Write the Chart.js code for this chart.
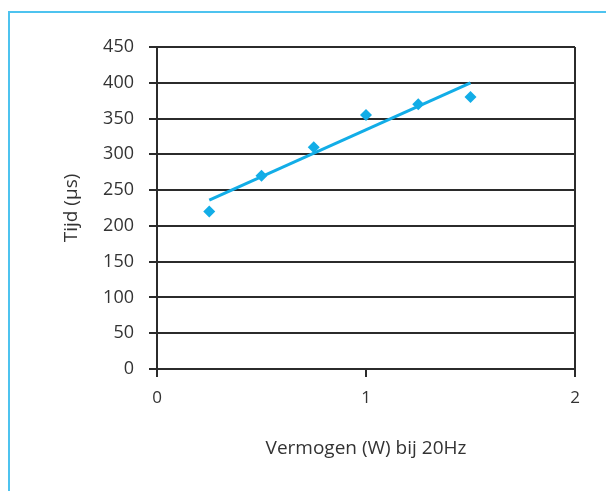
<!DOCTYPE html>
<html>
<head>
<meta charset="utf-8">
<script src="https://cdn.jsdelivr.net/npm/chart.js@4.4.1/dist/chart.umd.min.js"></script>
<style>
  html, body { margin: 0; padding: 0; background: #fff; }
  body { width: 606px; height: 491px; position: relative; overflow: hidden; }
  #frame {
    position: absolute; left: 8px; top: 11px; width: 700px; height: 600px;
    border-left: 2px solid #4ec3ef; border-top: 2px solid #4ec3ef;
  }
  #wrap { position: absolute; left: 0; top: 0; width: 606px; height: 491px; }
</style>
</head>
<body>
<div id="frame"></div>
<div id="wrap"><canvas id="chart" width="606" height="491"></canvas></div>
<script>
// Measured points: power (W) at 20 Hz vs. time (µs)
const vermogen = [0.25, 0.5, 0.75, 1, 1.25, 1.5];
const tijd = [220, 270, 310, 355, 370, 380];

// Linear trend line end points
const trendX = [0.25, 1.5];
const trendY = [236, 400];

const xTicks = [0, 1, 2];
const yTicks = [0, 50, 100, 150, 200, 250, 300, 350, 400, 450];

const blue = '#12ade7';
const dark = '#2b2b2b';
const textColor = '#333333';
const fontFamily = '"Open Sans", "DejaVu Sans", sans-serif';

const toXY = (xs, ys) => xs.map((x, i) => ({ x: x, y: ys[i] }));

new Chart(document.getElementById('chart'), {
  type: 'scatter',
  data: {
    datasets: [
      {
        label: 'Trend',
        type: 'line',
        data: toXY(trendX, trendY),
        borderColor: blue,
        borderWidth: 3,
        pointRadius: 0,
        fill: false,
        order: 2
      },
      {
        label: 'Tijd',
        data: toXY(vermogen, tijd),
        backgroundColor: blue,
        borderColor: blue,
        pointStyle: 'rectRot',
        pointRadius: 6,
        borderWidth: 0,
        order: 1
      }
    ]
  },
  options: {
    responsive: false,
    animation: false,
    devicePixelRatio: 1,
    layout: { padding: { left: 0, right: 31, top: 47, bottom: 0 } },
    plugins: { legend: { display: false }, tooltip: { enabled: false } },
    scales: {
      x: {
        type: 'linear',
        min: 0, max: 2,
        afterBuildTicks: (s) => { s.ticks = xTicks.map(v => ({ value: v })); },
        afterFit: (s) => { s.height = 122; },
        grid: {
          color: (c) => (c.tick && c.tick.value === 2) ? dark : 'rgba(0,0,0,0)',
          tickColor: dark,
          lineWidth: 2,
          tickLength: 8,
          drawTicks: true
        },
        border: { display: true, color: dark, width: 2 },
        ticks: {
          color: textColor,
          font: { family: fontFamily, size: 17 },
          padding: 11,
          maxRotation: 0
        },
        title: {
          display: true,
          text: 'Vermogen (W) bij 20Hz',
          color: textColor,
          font: { family: fontFamily, size: 19 },
          padding: { top: 0, bottom: 31 }
        }
      },
      y: {
        type: 'linear',
        min: 0, max: 450,
        afterBuildTicks: (s) => { s.ticks = yTicks.map(v => ({ value: v })); },
        afterFit: (s) => { s.width = 157; },
        grid: {
          color: dark,
          lineWidth: 2,
          tickLength: 8,
          drawTicks: true
        },
        border: { display: true, color: dark, width: 2 },
        ticks: {
          color: textColor,
          font: { family: fontFamily, size: 18 },
          padding: 15
        },
        title: {
          display: true,
          text: 'Tijd (µs)',
          color: textColor,
          font: { family: fontFamily, size: 19 },
          padding: { top: 60, bottom: 0 }
        }
      }
    }
  }
});
</script>
</body>
</html>
